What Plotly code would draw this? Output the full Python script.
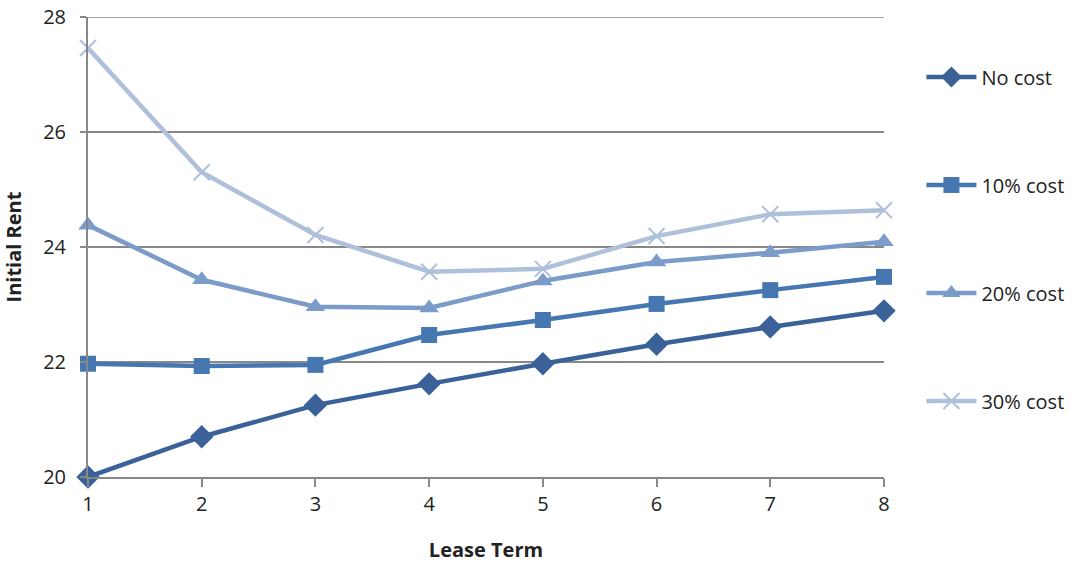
import plotly.graph_objects as go

lease_term = [1, 2, 3, 4, 5, 6, 7, 8]
no_cost = [20.00, 20.70, 21.25, 21.62, 21.97, 22.31, 22.61, 22.89]
cost_10 = [21.97, 21.93, 21.95, 22.47, 22.73, 23.01, 23.25, 23.48]
cost_20 = [24.38, 23.43, 22.96, 22.94, 23.41, 23.74, 23.90, 24.09]
cost_30 = [27.46, 25.30, 24.21, 23.57, 23.62, 24.19, 24.57, 24.64]

series = [
    ("No cost", no_cost, "#3A6298", "diamond", 18),
    ("10% cost", cost_10, "#4677B1", "square", 16),
    ("20% cost", cost_20, "#7B9BC9", "triangle-up", 17),
    ("30% cost", cost_30, "#AFC0DB", "x-thin", 16),
]

fig = go.Figure()
for i, (name, vals, color, sym, size) in enumerate(series):
    marker = dict(symbol=sym, size=size, color=color)
    if sym == "x-thin":
        marker["line"] = dict(color=color, width=2)
    fig.add_trace(go.Scatter(
        x=lease_term, y=vals, name=name, mode="lines+markers",
        line=dict(color=color, width=4.5), marker=marker,
        legendgroup=f"g{i}", cliponaxis=False,
    ))

# top gridline at 28 (edge of range)
fig.add_shape(type="line", xref="paper", x0=0, x1=1, yref="y", y0=28, y1=28,
              line=dict(color="#888", width=1.5), layer="below")

font = "Open Sans, Liberation Sans, sans-serif"
fig.update_layout(
    width=1081, height=567,
    margin=dict(l=88, r=197, t=17, b=90, autoexpand=False),
    paper_bgcolor="white", plot_bgcolor="white",
    font=dict(family=font, size=20, color="#222"),
    showlegend=True,
    legend=dict(x=1.047, y=0.912, xanchor="left", yanchor="top",
                font=dict(size=20, color="#222"), tracegroupgap=79,
                itemwidth=50),
    xaxis=dict(
        range=[1, 8], dtick=1, showgrid=False, showline=True,
        linecolor="#888", linewidth=2, ticks="outside", ticklen=8,
        tickcolor="#888", tickwidth=2, automargin=False,
        title=dict(text="<b>Lease Term</b>", font=dict(size=20), standoff=27),
        zeroline=False,
    ),
    yaxis=dict(
        range=[20, 28], dtick=2, showgrid=True, gridcolor="#888", gridwidth=1.5,
        showline=True, linecolor="#888", linewidth=2,
        ticks="outside", ticklen=6, tickcolor="#888", tickwidth=1.5,
        ticklabelstandoff=10, automargin=False, ticklabeloverflow="allow",
        title=dict(text="<b>Initial Rent</b>", font=dict(size=20), standoff=17),
        zeroline=False,
    ),
)

fig.write_html("out.html", config={"displayModeBar": False},
               post_script="document.body.style.margin='0';document.body.style.padding='0';")
